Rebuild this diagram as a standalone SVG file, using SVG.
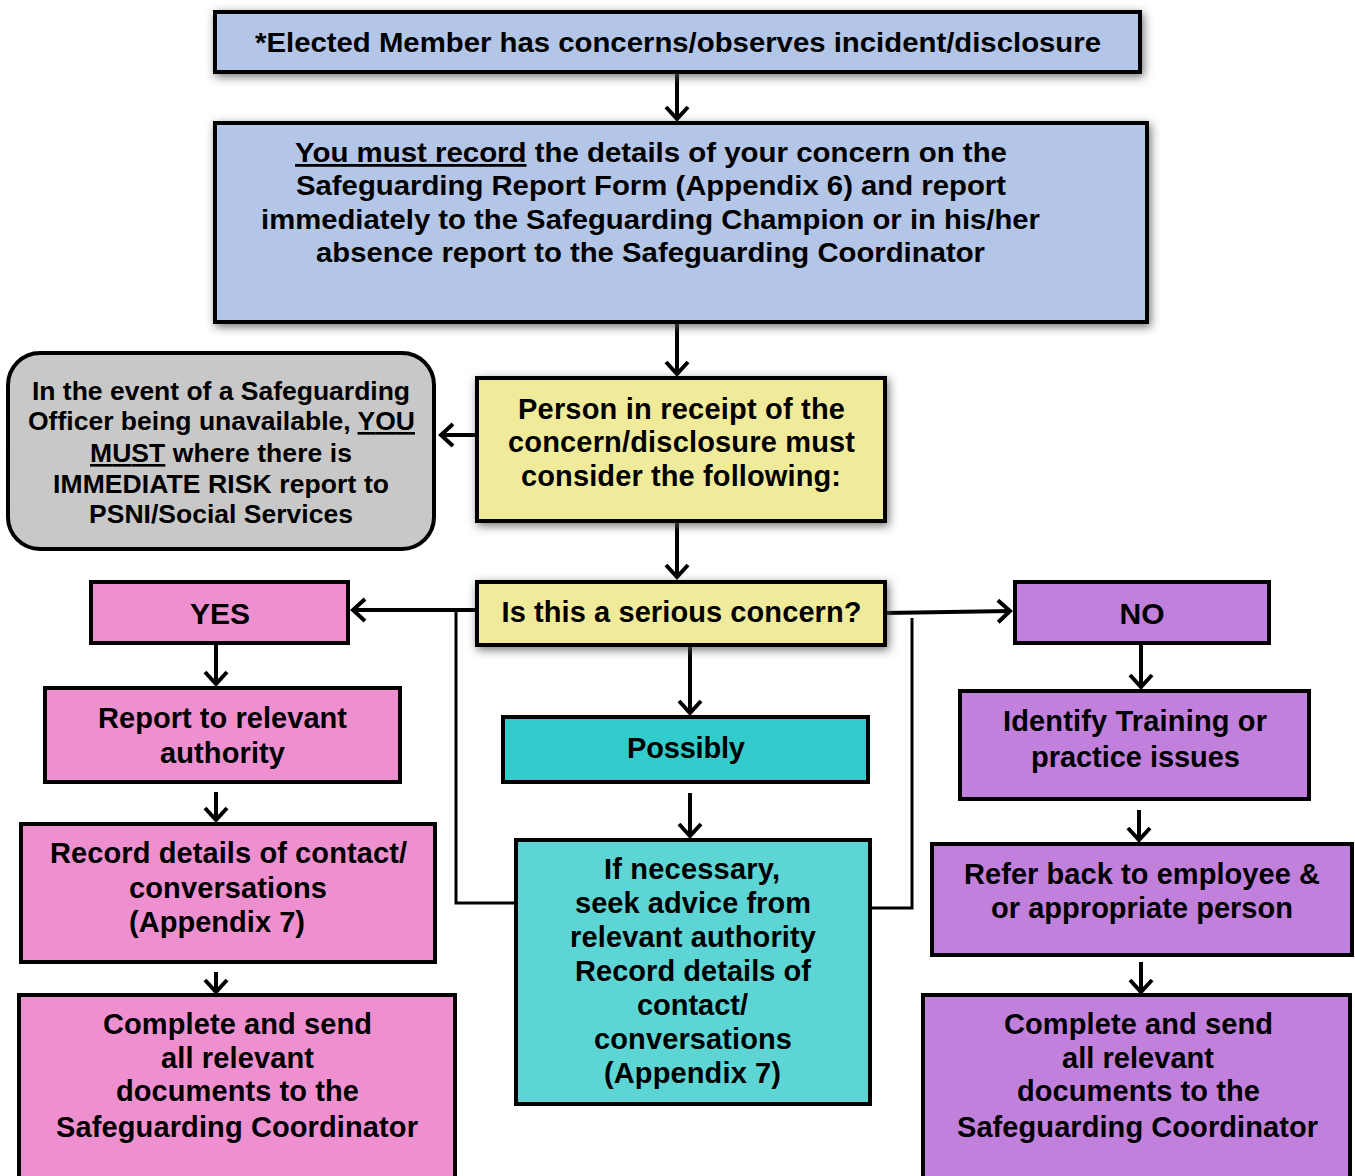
<svg xmlns="http://www.w3.org/2000/svg" width="1355" height="1176" viewBox="0 0 1355 1176">
<style>
.b{stroke:#000;stroke-width:4}
.t{font-family:"Liberation Sans",Arial,sans-serif;font-weight:bold;font-size:29px;fill:#000;text-anchor:middle}
.s{font-size:26.5px}
.big{font-size:30px}
.n{text-anchor:start;font-size:28px}
.c{fill:none;stroke:#000;stroke-width:4}
.c3{fill:none;stroke:#000;stroke-width:3}
.u{text-decoration:underline}
</style>
<defs>
<filter id="sh" x="-10%" y="-25%" width="120%" height="160%">
<feDropShadow dx="2" dy="3" stdDeviation="5" flood-color="#555" flood-opacity="0.8"/>
</filter>
<marker id="ah" markerUnits="userSpaceOnUse" viewBox="-16 -14 20 28" refX="0" refY="0" markerWidth="20" markerHeight="28" orient="auto">
<path d="M-13,-11 L-1,0 L-13,11" fill="none" stroke="#000" stroke-width="4"/>
</marker>
</defs>
<rect width="1355" height="1176" fill="#fff"/>

<g id="connectors">
<line class="c" x1="677" y1="72" x2="677" y2="120" marker-end="url(#ah)"/>
<line class="c" x1="677" y1="322" x2="677" y2="375" marker-end="url(#ah)"/>
<line class="c" x1="477" y1="435" x2="440" y2="435" marker-end="url(#ah)"/>
<line class="c" x1="677" y1="521" x2="677" y2="578" marker-end="url(#ah)"/>
<line class="c" x1="477" y1="610" x2="352" y2="610" marker-end="url(#ah)"/>
<line class="c" x1="885" y1="613" x2="1011" y2="611" marker-end="url(#ah)"/>
<polyline class="c3" points="456,610 456,903 516,903"/>
<polyline class="c3" points="912,618 912,908 870,908"/>
<line class="c" x1="216" y1="643" x2="216" y2="685" marker-end="url(#ah)"/>
<line class="c" x1="216" y1="792" x2="216" y2="821" marker-end="url(#ah)"/>
<line class="c" x1="216" y1="972" x2="216" y2="993" marker-end="url(#ah)"/>
<line class="c" x1="690" y1="645" x2="690" y2="714" marker-end="url(#ah)"/>
<line class="c" x1="690" y1="793" x2="690" y2="837" marker-end="url(#ah)"/>
<line class="c" x1="1141" y1="643" x2="1141" y2="688" marker-end="url(#ah)"/>
<line class="c" x1="1139" y1="810" x2="1139" y2="841" marker-end="url(#ah)"/>
<line class="c" x1="1141" y1="962" x2="1141" y2="993" marker-end="url(#ah)"/>
</g>

<g id="n-start">
<rect class="b" x="215" y="12" width="925" height="60" fill="#b3c6e7" filter="url(#sh)"/>
<text class="t n" x="255" y="52" textLength="846" lengthAdjust="spacingAndGlyphs">*Elected Member has concerns/observes incident/disclosure</text>
</g>

<g id="n-record">
<rect class="b" x="215" y="123" width="932" height="199" fill="#b3c6e7" filter="url(#sh)"/>
<text class="t n" x="295" y="162" textLength="712" lengthAdjust="spacingAndGlyphs"><tspan class="u">You must record</tspan> the details of your concern on the</text>
<text class="t n" x="296" y="195" textLength="710" lengthAdjust="spacingAndGlyphs">Safeguarding Report Form (Appendix 6) and report</text>
<text class="t n" x="261" y="229" textLength="779" lengthAdjust="spacingAndGlyphs">immediately to the Safeguarding Champion or in his/her</text>
<text class="t n" x="316" y="262" textLength="669" lengthAdjust="spacingAndGlyphs">absence report to the Safeguarding Coordinator</text>
</g>

<g id="n-unavailable">
<rect class="b" x="8" y="353" width="426" height="196" rx="32" fill="#c8c8c8"/>
<text class="t s" x="221" y="400" textLength="378">In the event of a Safeguarding</text>
<text class="t s" x="221.5" y="430" textLength="387">Officer being unavailable, <tspan class="u">YOU</tspan></text>
<text class="t s" x="221" y="462" textLength="262"><tspan class="u">MUST</tspan> where there is</text>
<text class="t s" x="221" y="493" textLength="336">IMMEDIATE RISK report to</text>
<text class="t s" x="221" y="523" textLength="264">PSNI/Social Services</text>
</g>

<g id="n-consider">
<rect class="b" x="477" y="378" width="408" height="143" fill="#f0eb9b" filter="url(#sh)"/>
<text class="t" x="681.5" y="419" textLength="327">Person in receipt of the</text>
<text class="t" x="681.5" y="452" textLength="347">concern/disclosure must</text>
<text class="t" x="681" y="486" textLength="320">consider the following:</text>
</g>

<g id="n-serious">
<rect class="b" x="477" y="582" width="408" height="63" fill="#f0eb9b" filter="url(#sh)"/>
<text class="t" x="681.5" y="622" textLength="360">Is this a serious concern?</text>
</g>

<g id="n-yes">
<rect class="b" x="91" y="582" width="257" height="61" fill="#ee90d0"/>
<text class="t big" x="220" y="624">YES</text>
</g>

<g id="n-no">
<rect class="b" x="1015" y="582" width="254" height="61" fill="#c080dc"/>
<text class="t big" x="1142" y="624">NO</text>
</g>

<g id="n-report">
<rect class="b" x="45" y="688" width="355" height="94" fill="#ee90d0"/>
<text class="t" x="222.5" y="728" textLength="249">Report to relevant</text>
<text class="t" x="222.5" y="763" textLength="125">authority</text>
</g>

<g id="n-recordL">
<rect class="b" x="21" y="824" width="414" height="138" fill="#ee90d0"/>
<text class="t" x="228.5" y="863" textLength="357">Record details of contact/</text>
<text class="t" x="228" y="898" textLength="198">conversations</text>
<text class="t" x="217" y="932" textLength="176">(Appendix 7)</text>
</g>

<g id="n-completeL">
<rect class="b" x="19" y="995" width="436" height="200" fill="#ee90d0"/>
<text class="t" x="237.5" y="1034" textLength="269">Complete and send</text>
<text class="t" x="237.5" y="1068" textLength="153">all relevant</text>
<text class="t" x="237.5" y="1101" textLength="243">documents to the</text>
<text class="t" x="237" y="1137" textLength="362">Safeguarding Coordinator</text>
</g>

<g id="n-possibly">
<rect class="b" x="503" y="717" width="365" height="65" fill="#33cccc"/>
<text class="t" x="686" y="758" textLength="118">Possibly</text>
</g>

<g id="n-advice">
<rect class="b" x="516" y="840" width="354" height="264" fill="#5dd5d5"/>
<text class="t" x="692" y="879" textLength="176">If necessary,</text>
<text class="t" x="693" y="913" textLength="236">seek advice from</text>
<text class="t" x="693" y="947" textLength="246">relevant authority</text>
<text class="t" x="693" y="981" textLength="236">Record details of</text>
<text class="t" x="692.5" y="1015" textLength="111">contact/</text>
<text class="t" x="693" y="1049" textLength="198">conversations</text>
<text class="t" x="692.5" y="1083" textLength="177">(Appendix 7)</text>
</g>

<g id="n-identify">
<rect class="b" x="960" y="691" width="349" height="108" fill="#c080dc"/>
<text class="t" x="1135" y="731" textLength="264">Identify Training or</text>
<text class="t" x="1135.5" y="767" textLength="209">practice issues</text>
</g>

<g id="n-refer">
<rect class="b" x="932" y="844" width="420" height="111" fill="#c080dc"/>
<text class="t" x="1142" y="884" textLength="356">Refer back to employee &amp;</text>
<text class="t" x="1142" y="918" textLength="302">or appropriate person</text>
</g>

<g id="n-completeR">
<rect class="b" x="923" y="995" width="427" height="200" fill="#c080dc"/>
<text class="t" x="1138.5" y="1034" textLength="269">Complete and send</text>
<text class="t" x="1138" y="1068" textLength="152">all relevant</text>
<text class="t" x="1138.5" y="1101" textLength="243">documents to the</text>
<text class="t" x="1137.5" y="1137" textLength="361">Safeguarding Coordinator</text>
</g>
</svg>
